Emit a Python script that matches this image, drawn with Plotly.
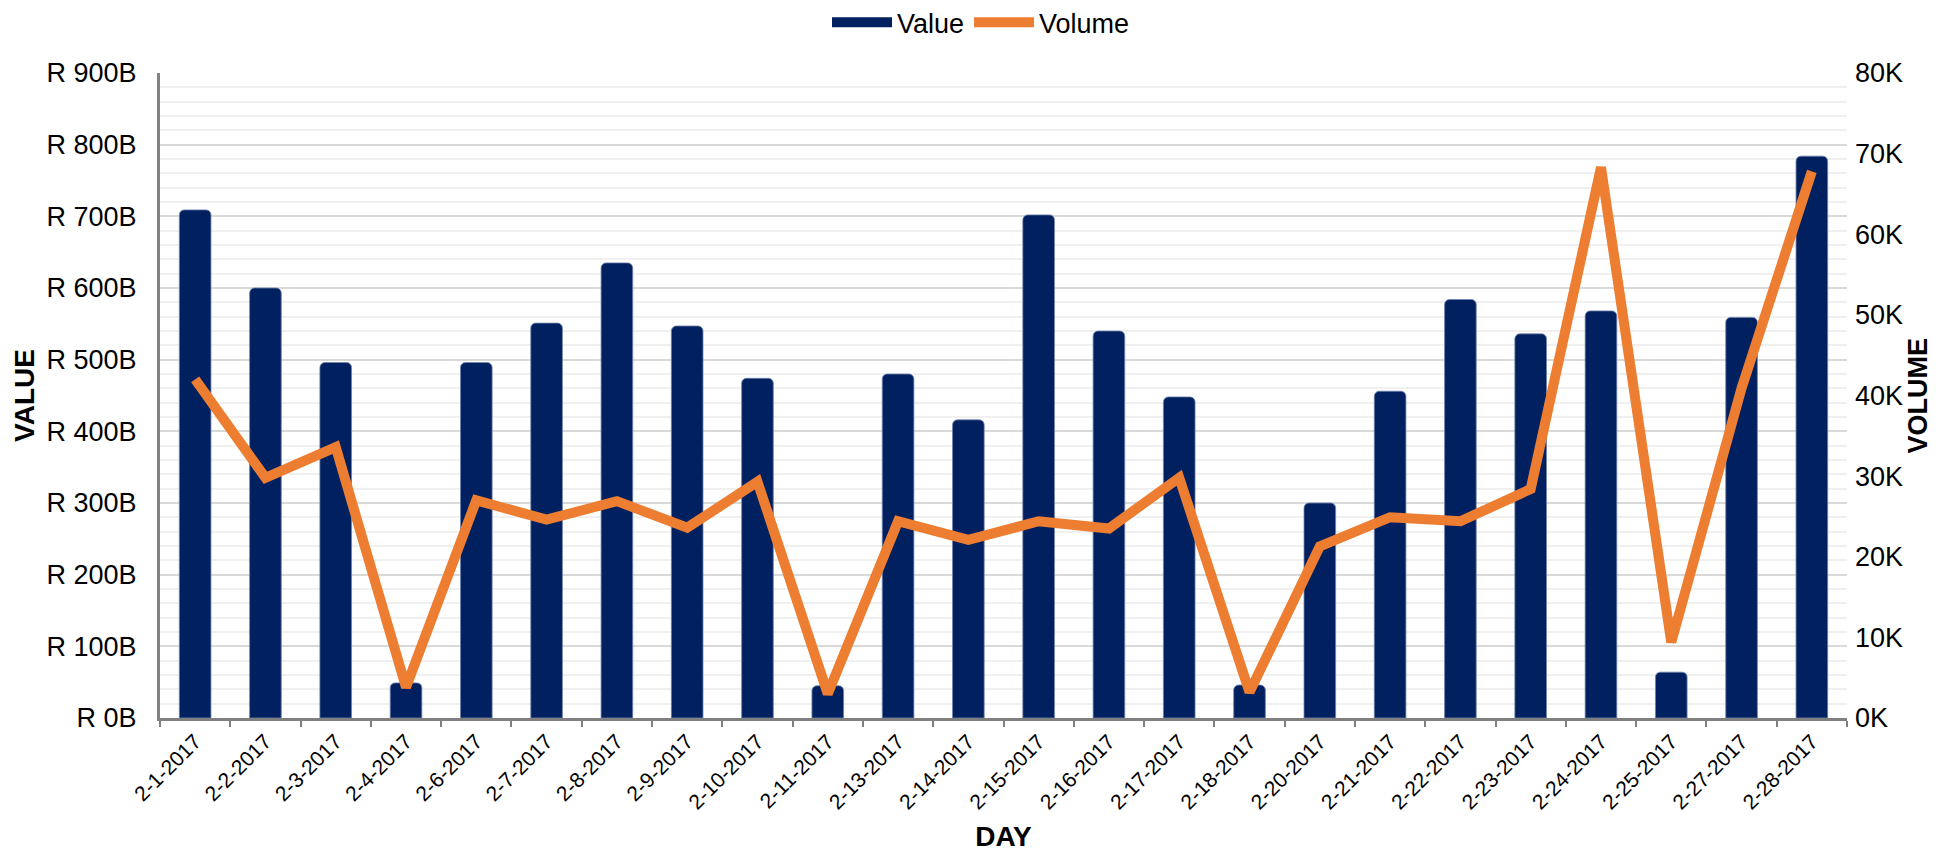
import plotly.graph_objects as go

days = ["2-1-2017", "2-2-2017", "2-3-2017", "2-4-2017", "2-6-2017", "2-7-2017",
        "2-8-2017", "2-9-2017", "2-10-2017", "2-11-2017", "2-13-2017", "2-14-2017",
        "2-15-2017", "2-16-2017", "2-17-2017", "2-18-2017", "2-20-2017", "2-21-2017",
        "2-22-2017", "2-23-2017", "2-24-2017", "2-25-2017", "2-27-2017", "2-28-2017"]

# Value in billions of Rand
value_b = [709, 600, 496, 49, 496, 551, 635, 547, 474, 45, 480, 416,
           702, 540, 448, 46, 300, 456, 584, 536, 568, 64, 559, 784]

# Volume in thousands
volume_k = [42.0, 29.8, 33.6, 3.8, 27.0, 24.6, 26.9, 23.6, 29.3, 3.0, 24.4, 22.1,
            24.4, 23.5, 29.8, 3.2, 21.3, 24.9, 24.4, 28.4, 68.3, 9.4, 40.9, 67.8]

FONT = "Liberation Sans, Arial, sans-serif"
GRAY = "#808080"
NAVY = "#002060"
ORANGE = "#ED7D31"

fig = go.Figure()
fig.add_trace(go.Bar(
    x=days, y=value_b, name="Value", showlegend=False,
    marker=dict(color=NAVY, cornerradius=5,
                line=dict(color="#6F83AD", width=0.8)),
    width=0.45,
))
# legend-only entry giving a wide navy swatch like the reference
fig.add_trace(go.Scatter(
    x=[None], y=[None], name="Value", mode="lines",
    line=dict(color=NAVY, width=22), hoverinfo="skip",
))
fig.add_trace(go.Scatter(
    x=days, y=volume_k, name="Volume", yaxis="y2", mode="lines",
    line=dict(color=ORANGE, width=10),
))

fig.update_layout(
    width=1946, height=848,
    margin=dict(l=152, r=107, t=65, b=138, autoexpand=False),
    paper_bgcolor="white", plot_bgcolor="white",
    font=dict(family=FONT, size=27, color="#000000"),
    showlegend=True,
    legend=dict(orientation="h", xref="container", x=0.5, xanchor="center",
                y=1.078, yanchor="middle",
                font=dict(size=27), itemwidth=60, traceorder="normal"),
    xaxis=dict(
        type="category", tickangle=-45, tickfont=dict(size=21),
        showline=True, linecolor=GRAY, linewidth=3,
        ticks="outside", tickson="boundaries", ticklen=6, tickwidth=2, tickcolor=GRAY,
        showgrid=False, automargin=False,
        title=dict(text="<b>DAY</b>", font=dict(size=28), standoff=14),
    ),
    yaxis=dict(
        range=[0, 900], dtick=100, tickprefix="R ", ticksuffix="B",
        showline=True, linecolor=GRAY, linewidth=3,
        showgrid=True, gridcolor="#D9D9D9", gridwidth=1.5,
        minor=dict(dtick=20, showgrid=True, gridcolor="#F0F0F0", gridwidth=1.5),
        zeroline=False, ticks="", ticklabelstandoff=15, automargin=False,
        tickfont=dict(size=27),
        title=dict(text="<b>VALUE</b>", font=dict(size=28), standoff=4),
    ),
    yaxis2=dict(
        range=[0, 80], dtick=10, ticksuffix="K", overlaying="y", side="right",
        showgrid=False, showline=False, zeroline=False, ticks="",
        ticklabelstandoff=7, automargin=False, tickfont=dict(size=27),
    ),
    annotations=[dict(
        text="<b>VOLUME</b>", textangle=-90, showarrow=False,
        xref="paper", yref="paper", x=1, y=0.5, xanchor="center", yanchor="middle",
        xshift=70, font=dict(size=27),
    )],
)

fig.write_html("out.html")
